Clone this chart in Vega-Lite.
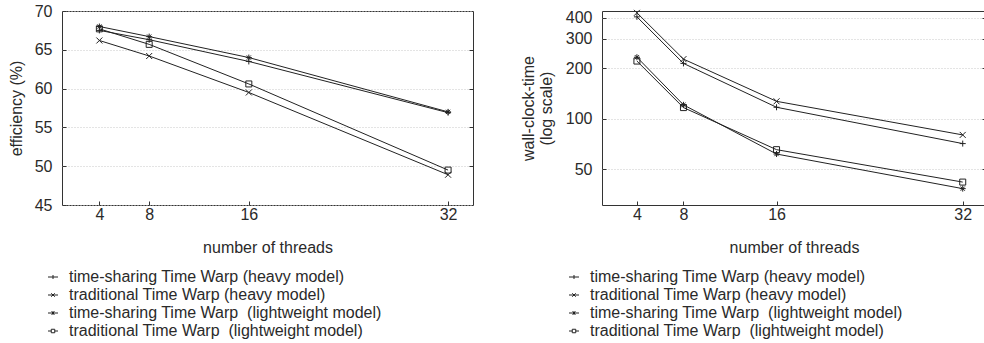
{
  "$schema": "https://vega.github.io/schema/vega-lite/v6.json",
  "padding": {"left": 7, "top": 2, "right": 0, "bottom": 0},
  "background": "white",
  "config": {
    "font": "Liberation Sans",
    "view": {"stroke": "#333333", "strokeWidth": 1},
    "axis": {
      "domain": false,
      "labelFont": "Liberation Sans",
      "titleFont": "Liberation Sans",
      "labelFontSize": 16,
      "titleFontSize": 16,
      "titleFontWeight": "normal",
      "labelColor": "#2a2a2a",
      "titleColor": "#2a2a2a",
      "tickColor": "#333333",
      "tickSize": -4,
      "labelPadding": 14,
      "gridColor": "#c8c8c8",
      "gridDash": [1, 2],
      "gridWidth": 1
    },
    "legend": {
      "labelFont": "Liberation Sans",
      "labelFontSize": 16,
      "labelColor": "#2a2a2a",
      "labelLimit": 0,
      "padding": 0,
      "symbolSize": 100,
      "symbolStrokeWidth": 1,
      "symbolStrokeColor": "#222222",
      "symbolFillColor": "transparent",
      "labelOffset": 8,
      "title": null
    }
  },
  "datasets": {
    "eff": [
      {"threads": 4, "series": "time-sharing Time Warp (heavy model)", "value": 67.5},
      {"threads": 8, "series": "time-sharing Time Warp (heavy model)", "value": 66.3},
      {"threads": 16, "series": "time-sharing Time Warp (heavy model)", "value": 63.5},
      {"threads": 32, "series": "time-sharing Time Warp (heavy model)", "value": 56.9},
      {"threads": 4, "series": "traditional Time Warp (heavy model)", "value": 66.2},
      {"threads": 8, "series": "traditional Time Warp (heavy model)", "value": 64.2},
      {"threads": 16, "series": "traditional Time Warp (heavy model)", "value": 59.5},
      {"threads": 32, "series": "traditional Time Warp (heavy model)", "value": 48.9},
      {"threads": 4, "series": "time-sharing Time Warp \u00a0(lightweight model)", "value": 68.0},
      {"threads": 8, "series": "time-sharing Time Warp \u00a0(lightweight model)", "value": 66.7},
      {"threads": 16, "series": "time-sharing Time Warp \u00a0(lightweight model)", "value": 64.0},
      {"threads": 32, "series": "time-sharing Time Warp \u00a0(lightweight model)", "value": 57.0},
      {"threads": 4, "series": "traditional Time Warp \u00a0(lightweight model)", "value": 67.7},
      {"threads": 8, "series": "traditional Time Warp \u00a0(lightweight model)", "value": 65.7},
      {"threads": 16, "series": "traditional Time Warp \u00a0(lightweight model)", "value": 60.6},
      {"threads": 32, "series": "traditional Time Warp \u00a0(lightweight model)", "value": 49.5}
    ],
    "wall": [
      {"threads": 4, "series": "time-sharing Time Warp (heavy model)", "value": 406},
      {"threads": 8, "series": "time-sharing Time Warp (heavy model)", "value": 214},
      {"threads": 16, "series": "time-sharing Time Warp (heavy model)", "value": 117},
      {"threads": 32, "series": "time-sharing Time Warp (heavy model)", "value": 71},
      {"threads": 4, "series": "traditional Time Warp (heavy model)", "value": 429},
      {"threads": 8, "series": "traditional Time Warp (heavy model)", "value": 227},
      {"threads": 16, "series": "traditional Time Warp (heavy model)", "value": 127},
      {"threads": 32, "series": "traditional Time Warp (heavy model)", "value": 80},
      {"threads": 4, "series": "time-sharing Time Warp \u00a0(lightweight model)", "value": 233},
      {"threads": 8, "series": "time-sharing Time Warp \u00a0(lightweight model)", "value": 121},
      {"threads": 16, "series": "time-sharing Time Warp \u00a0(lightweight model)", "value": 61.5},
      {"threads": 32, "series": "time-sharing Time Warp \u00a0(lightweight model)", "value": 38.2},
      {"threads": 4, "series": "traditional Time Warp \u00a0(lightweight model)", "value": 221},
      {"threads": 8, "series": "traditional Time Warp \u00a0(lightweight model)", "value": 116.5},
      {"threads": 16, "series": "traditional Time Warp \u00a0(lightweight model)", "value": 65.3},
      {"threads": 32, "series": "traditional Time Warp \u00a0(lightweight model)", "value": 41.8}
    ]
  },
  "spacing": 45,
  "hconcat": [
    {
      "width": 411,
      "height": 194,
      "data": {"name": "eff"},
      "resolve": {"axis": {"y": "independent"}, "scale": {"shape": "independent"}, "legend": {"shape": "independent"}},
      "layer": [
        {
          "mark": {"type": "line", "color": "#222222", "strokeWidth": 1},
          "encoding": {
            "x": {"field": "threads", "type": "quantitative", "scale": {"domain": [1, 34], "nice": false, "zero": false},
                  "axis": {"values": [4, 8, 16, 32], "grid": false, "title": "number of threads", "labelPadding": 5, "titlePadding": 17}},
            "y": {"field": "value", "type": "quantitative", "scale": {"domain": [45, 70], "nice": false, "zero": false},
                  "axis": {"values": [45, 50, 55, 60, 65, 70], "grid": true, "title": "efficiency (%)", "titlePadding": 10, "orient": "left"}},
            "detail": {"field": "series"}
          }
        },
        {
          "mark": {"type": "point", "filled": false, "stroke": "#222222", "strokeWidth": 1, "size": 36, "opacity": 1},
          "encoding": {
            "x": {"field": "threads", "type": "quantitative"},
            "y": {"field": "value", "type": "quantitative",
                  "axis": {"orient": "right", "labels": false, "grid": false, "title": null, "values": [50, 55, 60, 65]}},
            "shape": {
              "field": "series",
              "type": "nominal",
              "scale": {
                "domain": ["time-sharing Time Warp (heavy model)", "traditional Time Warp (heavy model)", "time-sharing Time Warp \u00a0(lightweight model)", "traditional Time Warp \u00a0(lightweight model)"],
                "range": ["M-1,0H1M0,-1V1", "M-1,-1L1,1M-1,1L1,-1", "M-1,0H1M0,-1V1M-0.7,-0.7L0.7,0.7M-0.7,0.7L0.7,-0.7", "M-1,-1H1V1H-1Z"]
              },
              "legend": null
            }
          }
        },
        {
          "mark": {"type": "point", "filled": false, "stroke": "#222222", "strokeWidth": 1, "size": 0, "opacity": 1},
          "encoding": {
            "x": {"field": "threads", "type": "quantitative"},
            "y": {"field": "value", "type": "quantitative", "axis": null},
            "shape": {
              "field": "series",
              "type": "nominal",
              "scale": {
                "domain": ["time-sharing Time Warp (heavy model)", "traditional Time Warp (heavy model)", "time-sharing Time Warp \u00a0(lightweight model)", "traditional Time Warp \u00a0(lightweight model)"],
                "range": ["M-1,0H1M0,-0.4V0.4", "M-1,0H1M-0.35,-0.35L0.35,0.35M-0.35,0.35L0.35,-0.35", "M-1,0H1M0,-0.4V0.4M-0.3,-0.3L0.3,0.3M-0.3,0.3L0.3,-0.3", "M-1,0H-0.35M0.35,0H1M-0.35,-0.35H0.35V0.35H-0.35Z"]
              },
              "legend": {"orient": "none", "legendX": -17, "legendY": 258, "direction": "vertical"}
            }
          }
        }
      ]
    },
    {
      "width": 384,
      "height": 194,
      "data": {"name": "wall"},
      "resolve": {"axis": {"y": "independent"}, "scale": {"shape": "independent"}, "legend": {"shape": "independent"}},
      "layer": [
        {
          "mark": {"type": "line", "color": "#222222", "strokeWidth": 1},
          "encoding": {
            "x": {"field": "threads", "type": "quantitative", "scale": {"domain": [1, 34], "nice": false, "zero": false},
                  "axis": {"values": [4, 8, 16, 32], "grid": false, "title": "number of threads", "labelPadding": 5, "titlePadding": 17}},
            "y": {"field": "value", "type": "quantitative", "scale": {"type": "log", "domain": [30.5, 440], "nice": false},
                  "axis": {"values": [50, 100, 200, 300, 400], "grid": true, "title": ["wall-clock-time", "(log scale)"], "titleLineHeight": 18, "titlePadding": 11, "orient": "left"}},
            "detail": {"field": "series"}
          }
        },
        {
          "mark": {"type": "point", "filled": false, "stroke": "#222222", "strokeWidth": 1, "size": 36, "opacity": 1},
          "encoding": {
            "x": {"field": "threads", "type": "quantitative"},
            "y": {"field": "value", "type": "quantitative",
                  "axis": {"orient": "right", "labels": false, "grid": false, "title": null, "values": [50, 100, 200, 300, 400]}},
            "shape": {
              "field": "series",
              "type": "nominal",
              "scale": {
                "domain": ["time-sharing Time Warp (heavy model)", "traditional Time Warp (heavy model)", "time-sharing Time Warp \u00a0(lightweight model)", "traditional Time Warp \u00a0(lightweight model)"],
                "range": ["M-1,0H1M0,-1V1", "M-1,-1L1,1M-1,1L1,-1", "M-1,0H1M0,-1V1M-0.7,-0.7L0.7,0.7M-0.7,0.7L0.7,-0.7", "M-1,-1H1V1H-1Z"]
              },
              "legend": null
            }
          }
        },
        {
          "mark": {"type": "point", "filled": false, "stroke": "#222222", "strokeWidth": 1, "size": 0, "opacity": 1},
          "encoding": {
            "x": {"field": "threads", "type": "quantitative"},
            "y": {"field": "value", "type": "quantitative", "axis": null},
            "shape": {
              "field": "series",
              "type": "nominal",
              "scale": {
                "domain": ["time-sharing Time Warp (heavy model)", "traditional Time Warp (heavy model)", "time-sharing Time Warp \u00a0(lightweight model)", "traditional Time Warp \u00a0(lightweight model)"],
                "range": ["M-1,0H1M0,-0.4V0.4", "M-1,0H1M-0.35,-0.35L0.35,0.35M-0.35,0.35L0.35,-0.35", "M-1,0H1M0,-0.4V0.4M-0.3,-0.3L0.3,0.3M-0.3,0.3L0.3,-0.3", "M-1,0H-0.35M0.35,0H1M-0.35,-0.35H0.35V0.35H-0.35Z"]
              },
              "legend": {"orient": "none", "legendX": -36, "legendY": 258, "direction": "vertical"}
            }
          }
        }
      ]
    }
  ],
  "resolve": {"scale": {"shape": "independent"}, "legend": {"shape": "independent"}}
}
